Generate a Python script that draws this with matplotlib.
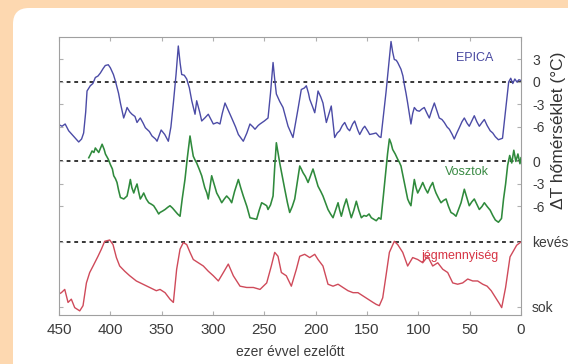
import matplotlib
matplotlib.use("Agg")
import matplotlib.pyplot as plt
from matplotlib.patches import FancyBboxPatch
import numpy as np

plt.rcParams['font.family'] = ['Liberation Sans', 'DejaVu Sans']

# ---------------- data ----------------
epica_age = [450, 447, 444, 440.6, 436, 430.8, 428, 426, 424, 422.7, 419.5, 417, 414.6, 412, 409.7, 407,
             404.9, 402, 400, 397, 395, 392, 390.2, 387, 385, 383.7, 381, 378.9, 376, 374, 372, 370.8,
             368, 365.9, 362, 359.4, 356, 354.5, 350.5, 347, 343.5, 341, 338.6, 336, 333.8, 332, 330.5,
             328, 325.6, 323, 320.7, 317.5, 315.9, 313, 311, 308, 304.6, 302, 299.7, 296, 293.2, 291,
             288.3, 285, 281.8, 278, 275.3, 270.5, 267, 264, 261, 259.1, 256, 254.2, 250, 246.4, 244,
             241.5, 240, 238.3, 235, 231.8, 229, 226.9, 222.1, 220, 217.2, 214, 211, 209.1, 207, 205.8,
             203, 200.9, 199, 197.7, 195, 192.9, 191, 189.6, 187, 184.8, 183, 181.5, 179, 176.6, 174,
             171.7, 169, 166.9, 164, 162, 159, 157.1, 154, 152.2, 149, 147.4, 144, 141.2, 138, 136.4,
             134, 131.5, 129, 126.6, 125, 123.4, 121.5, 120.1, 118, 116.9, 115, 113.7, 112, 110.4,
             108.5, 107.2, 105.5, 103.9, 101.5, 99, 96.5, 94.2, 91.5, 89.3, 87, 84.4, 82, 79.6, 77,
             74.7, 72, 69.8, 67, 65, 62.5, 60.1, 57.5, 55.2, 52.5, 50.4, 48, 45.5, 43, 40.6, 38, 35.7,
             33, 30, 27.5, 25, 22, 20, 18, 16, 14, 12, 10, 8, 6, 4, 2, 0]
epica_dT = [-5.7, -5.9, -5.6, -6.5, -7.2, -8.0, -7.6, -6.8, -4.0, -1.2, -0.5, -0.2, 0.6, 0.8, 1.2, 1.8,
            2.2, 2.3, 1.9, 1.0, 0.1, -1.5, -2.8, -4.8, -4.0, -3.4, -4.0, -4.3, -4.6, -5.4, -5.0, -4.8,
            -5.5, -6.1, -6.6, -7.2, -7.6, -7.9, -6.4, -7.0, -7.9, -6.0, -2.8, 1.0, 4.8, 2.5, 1.0,
            0.9, 0.4, -0.8, -2.5, -4.3, -2.5, -4.0, -5.2, -4.8, -4.3, -5.0, -5.6, -5.4, -5.6, -4.2,
            -2.8, -3.8, -4.8, -6.0, -7.0, -7.9, -6.8, -5.6, -6.0, -6.3, -5.8, -5.6, -5.2, -4.8, -1.5,
            2.6, 0.5, -1.6, -2.6, -3.4, -4.8, -5.9, -7.4, -5.8, -3.6, -1.0, -0.8, -0.5, -1.5, -2.3,
            -3.3, -4.1, -2.5, -1.2, -2.0, -2.8, -4.3, -5.4, -4.2, -3.2, -5.5, -7.4, -6.8, -6.5, -5.8,
            -5.4, -6.2, -6.5, -5.6, -5.2, -6.4, -7.0, -6.2, -5.9, -6.6, -7.0, -6.9, -6.8, -7.3, -7.4,
            -4.5, -1.4, 2.0, 5.4, 4.0, 3.0, 2.9, 2.6, 2.0, 1.7, 0.8, -0.3, -1.5, -2.8,
            -4.5, -5.6, -4.2, -3.4, -3.8, -3.9, -3.6, -3.4, -4.2, -4.8, -3.8, -2.8, -3.8, -4.8, -5.0,
            -5.4, -6.0, -6.3, -7.0, -7.6, -6.8, -6.1, -5.3, -4.8, -5.5, -5.9, -5.2, -4.5, -5.3, -5.9, -5.4, -5.0,
            -5.8, -6.5, -6.8, -7.3, -7.7, -7.6, -7.5, -5.0, -2.5, 0.0, 0.5, -0.2, 0.4, 0.0, 0.3, 0.2]

vostok_age = [421, 419.5, 417.8, 416, 414.6, 413, 411.3, 409.5, 408, 406, 404.8, 402, 400, 398, 396.7,
              395, 393.5, 392, 390.2, 386.9, 383.7, 382, 380.5, 379, 377.2, 375.5, 374, 372.5, 370.8,
              369, 367.5, 365, 362.6, 360, 357.8, 355, 352.9, 351.6, 349, 346.7, 344, 341.9, 339.5,
              337, 334.5, 332.1, 330, 327.3, 325, 322.4, 320.8, 319.2, 317.5, 315.9, 313.5, 311, 308,
              306, 304.6, 303, 301.3, 299, 296.4, 294, 291.5, 289, 286.7, 284, 281.8, 279, 275.3, 273,
              270.5, 267, 264, 261, 257.5, 255, 252.6, 250, 247.7, 246.4, 244, 241.5, 240, 238.3,
              236.5, 235, 232.5, 230.1, 227.5, 225.3, 222.8, 220.4, 218, 215.5, 214, 212.3, 210, 207.4,
              205, 202.6, 200, 197.7, 195, 192.9, 190.5, 188, 185.5, 183.1, 180.6, 178.2, 176.6, 175,
              172.5, 170.1, 167.7, 165.3, 162.8, 160.4, 158, 155.5, 153, 150.6, 148, 145.8, 143.3,
              141, 138.5, 136.4, 134, 131.5, 130, 128.2, 126.5, 125, 122.5, 120.1, 118.5, 116.9,
              115.3, 113.7, 112, 110.4, 108.8, 107.2, 105.5, 103.9, 102.2, 100.6, 98, 95.7, 93.3, 90.9,
              88.5, 86, 84.4, 82.8, 80.3, 77.9, 75.5, 73, 70.6, 68.2, 65.7, 63.3, 60.8, 58.4, 56.8,
              55.2, 52.8, 50.4, 48, 45.5, 43, 40.6, 38, 35.7, 33, 30, 27.5, 25, 22, 19, 17, 15, 13, 11,
              9, 7, 5, 3, 1, 0]
vostok_dT = [0.5, 0.9, 1.4, 1.2, 1.8, 1.5, 1.2, 1.8, 2.3, 1.6, 1.0, 0.3, -0.4, -1.0, -1.9,
             -2.3, -2.8, -3.8, -4.8, -5.0, -4.6, -3.5, -2.4, -3.5, -4.2, -3.5, -3.0, -4.0, -5.0,
             -4.6, -4.2, -5.0, -5.5, -5.7, -5.9, -6.5, -7.0, -6.8, -6.6, -6.4, -6.1, -5.9, -6.2,
             -6.6, -7.0, -7.3, -5.0, -2.4, 0.5, 3.4, 2.0, 0.7, 0.2, -0.2, -1.0, -1.9, -3.5,
             -4.2, -5.0, -3.5, -1.9, -3.0, -4.2, -4.8, -5.5, -5.0, -4.6, -5.0, -5.5, -4.0, -2.4, -3.5,
             -4.6, -6.0, -7.5, -7.6, -7.7, -6.5, -5.5, -5.7, -5.9, -6.4, -5.8, -4.6, -1.0, 2.5,
             1.0, -0.2, -2.0, -3.7, -5.5, -6.8, -6.0, -5.0, -2.8, -0.6, -1.0, -1.5, -2.0, -2.8,
             -1.9, -1.0, -2.2, -3.3, -4.0, -4.6, -5.5, -6.4, -7.0, -7.5, -6.5, -5.5, -6.5, -7.3,
             -6.0, -5.0, -6.3, -7.5, -6.5, -5.3, -6.5, -7.5, -7.2, -7.3, -7.0, -7.5, -7.7,
             -7.9, -7.5, -7.7, -4.5, -1.0, 1.0, 3.0, 2.4, 1.6, 1.0, 0.3, -0.1, -0.6,
             -1.7, -2.8, -4.0, -5.0, -5.5, -5.9, -4.0, -2.4, -3.5, -4.2, -3.5, -2.8, -3.6, -4.2,
             -3.4, -2.8, -3.6, -4.2, -4.9, -5.5, -5.2, -5.0, -6.0, -6.8, -7.0, -7.3, -6.4, -5.5, -4.6,
             -3.7, -4.8, -5.9, -5.4, -5.0, -5.7, -6.4, -6.0, -5.5, -6.0, -6.5, -7.2, -7.8, -8.1, -7.6, -5.0, -3.0, -0.5, 0.8,
             -0.2, 1.5, 0.0, 1.0, -0.3, 0.5]

ice_age = [450, 447.7, 444.4, 441.2, 438, 434.7, 429.8, 426.6, 423.3, 420.1, 416.8, 412, 408.7, 405.5,
           400.6, 397.4, 394.1, 390.9, 386, 381.1, 374.7, 368.2, 361.7, 355.2, 351.6, 346.7, 341.9,
           338.6, 335.4, 332.1, 328.9, 325.6, 322.4, 319.2, 314.3, 309.4, 304.6, 299.7, 294.8, 289.9,
           285.1, 280.2, 273.7, 267.2, 260.7, 254.2, 247.7, 243.2, 239.9, 236.7, 233.4, 228.6, 223.7,
           218.8, 215.5, 210.7, 205.8, 200.9, 197.7, 192.9, 188, 183.1, 178.2, 173.4, 168.5, 163.6,
           158.8, 153.9, 149, 144.1, 141, 138, 134.7, 131.5, 128.2, 123.4, 120.1, 115.2, 110.4, 105.5,
           100.6, 95.7, 90.9, 86, 81.1, 76.2, 71.4, 66.5, 61.7, 56.8, 51.9, 47, 42.2, 37.3, 33, 29,
           25, 21, 18.8, 15, 10.7, 4.2, 0]
ice_vol = [80, 78, 73, 93, 88, 101, 106, 98, 63, 47, 37, 22, 11, -1,
           -3, 4, 24, 37, 45, 52, 60, 65, 70, 75, 73, 78, 88,
           93, 42, 11, 1, 4, 16, 27, 32, 37, 45, 52, 60, 47,
           34, 52, 68, 70, 70, 73, 63, 37, 16, 22, 47, 52, 68,
           42, 22, 19, 24, 19, 27, 37, 65, 68, 65, 70, 75, 78,
           78, 83, 88, 93, 96, 98, 86, 52, 16, -1, 4, 16, 37, 24,
           27, 32, 22, 37, 32, 42, 47, 63, 65, 63, 57, 60, 60, 65, 68, 75,
           85, 95, 101, 70, 23, 5, 0]

x_ticks = [450, 400, 350, 300, 250, 200, 150, 100, 50, 0]
right_labels = ['3', '0', '-3', '-6', '0', '-3', '-6', 'kevés', 'sok']
series_names = ['EPICA', 'Vosztok', 'jégmennyiség']

# ---------------- layout ----------------
W, H = 568, 364
VOSTOK_OFF = -10.6
ICE_TOP, ICE_SCALE = -21.33, -0.0867

fig = plt.figure(figsize=(W / 100, H / 100), dpi=100)
fig.patch.set_facecolor('#fdd8b0')

bg = fig.add_axes([0, 0, 1, 1], zorder=0)
bg.set_xlim(0, W)
bg.set_ylim(H, 0)
bg.axis('off')
bg.add_patch(FancyBboxPatch((13, 8), 700, 500, boxstyle="round,pad=0,rounding_size=16",
                            fc='white', ec='none'))
bg.text(475, 58, series_names[0], color='#4848a0', fontsize=9, ha='center', va='center')
bg.text(467, 172, series_names[1], color='#3a8a44', fontsize=9, ha='center', va='center')
bg.text(460, 256, series_names[2], color='#d63444', fontsize=9, ha='center', va='center')
bg.text(290, 352, 'ezer évvel ezelőtt', fontsize=10, color='#3c3c3c', ha='center', va='center')
bg.text(559, 130, 'ΔT hőmérséklet (°C)', fontsize=12.5, color='#333333', ha='center',
        va='center', rotation=90)

ax = fig.add_axes([59 / W, 1 - 315 / H, 462 / W, 278 / H], zorder=1)
ax.patch.set_alpha(0)
ax.set_xlim(450, 0)
ax.set_ylim(-31.07, 6.0)

c_blue, c_green, c_red = '#4b4ba6', '#2f8a3c', '#cf4a5a'
ax.plot(epica_age, epica_dT, color=c_blue, lw=1.0)
ax.plot(vostok_age, np.array(vostok_dT) + VOSTOK_OFF, color=c_green, lw=1.15)
ax.plot(ice_age, ICE_TOP + np.array(ice_vol) * ICE_SCALE, color=c_red, lw=1.0)

for y in [0, VOSTOK_OFF, ICE_TOP]:
    ax.axhline(y, color='black', lw=1.1, ls=(0, (2.5, 2.5)), zorder=0.5)

for sp in ax.spines.values():
    sp.set_color('#a0a0a0')
    sp.set_linewidth(0.8)

ax.set_xticks(x_ticks)
ax.set_xticklabels([str(t) for t in x_ticks])
right_pos = [3, 0, -3, -6, VOSTOK_OFF, VOSTOK_OFF - 3, VOSTOK_OFF - 6, ICE_TOP, ICE_TOP + 100 * ICE_SCALE]
ax.set_yticks(right_pos)
ax.set_yticklabels(right_labels)
ax.tick_params(axis='x', direction='in', length=3, color='#b0b0b0', top=True,
               labelsize=11, labelcolor='#3c3c3c', pad=6)
ax.tick_params(axis='y', direction='in', length=3, color='#b0b0b0', left=True, right=True,
               labelleft=False, labelright=True, labelsize=10, labelcolor='#3c3c3c', pad=8)

fig.savefig('out.png', dpi=100, facecolor=fig.get_facecolor())
